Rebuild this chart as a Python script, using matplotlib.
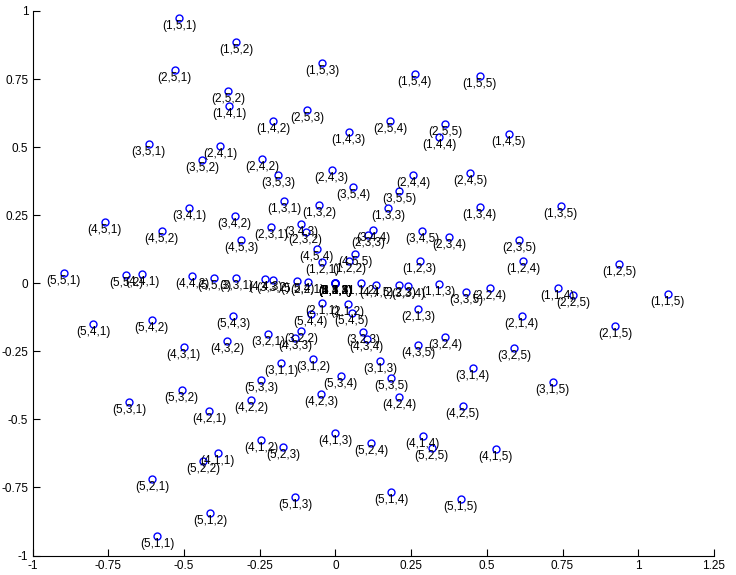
import itertools
import matplotlib
matplotlib.use("Agg")
import matplotlib.pyplot as plt

# coordinates of point (i,j,k); each list runs over (j,k) = (1,1),(1,2),...,(5,5)
x1 = [0.000, 0.086, 0.341, 0.734, 1.097,
      -0.043, 0.045, 0.278, 0.621, 0.938,
      -0.169, -0.053, 0.174, 0.476, 0.744,
      -0.350, -0.205, 0.044, 0.342, 0.573,
      -0.515, -0.327, -0.043, 0.262, 0.477]
y1 = [0.000, 0.000, -0.003, -0.017, -0.039,
      0.078, 0.083, 0.082, 0.082, 0.072,
      0.302, 0.288, 0.277, 0.280, 0.284,
      0.651, 0.596, 0.556, 0.538, 0.547,
      0.974, 0.885, 0.809, 0.769, 0.761]

x2 = [-0.043, 0.041, 0.273, 0.615, 0.924,
      -0.092, 0.000, 0.210, 0.509, 0.785,
      -0.212, -0.098, 0.108, 0.375, 0.606,
      -0.380, -0.241, -0.012, 0.256, 0.446,
      -0.531, -0.353, -0.093, 0.181, 0.362]
y2 = [-0.073, -0.075, -0.094, -0.120, -0.157,
      0.005, 0.000, -0.006, -0.018, -0.044,
      0.208, 0.189, 0.176, 0.170, 0.159,
      0.504, 0.455, 0.416, 0.398, 0.404,
      0.783, 0.706, 0.636, 0.596, 0.585]

x3 = [-0.179, -0.074, 0.148, 0.454, 0.718,
      -0.221, -0.113, 0.092, 0.362, 0.591,
      -0.327, -0.205, 0.000, 0.241, 0.431,
      -0.482, -0.333, -0.113, 0.125, 0.286,
      -0.617, -0.439, -0.188, 0.059, 0.210]
y3 = [-0.293, -0.278, -0.285, -0.311, -0.362,
      -0.186, -0.175, -0.179, -0.197, -0.238,
      0.018, 0.012, 0.000, -0.010, -0.032,
      0.275, 0.247, 0.218, 0.197, 0.192,
      0.510, 0.453, 0.398, 0.354, 0.339]

x4 = [-0.389, -0.245, -0.001, 0.288, 0.529,
      -0.416, -0.278, -0.047, 0.210, 0.420,
      -0.501, -0.357, -0.132, 0.103, 0.273,
      -0.637, -0.472, -0.232, 0.000, 0.134,
      -0.762, -0.573, -0.311, -0.062, 0.065]
y4 = [-0.623, -0.577, -0.550, -0.561, -0.609,
      -0.469, -0.430, -0.407, -0.418, -0.451,
      -0.233, -0.212, -0.200, -0.205, -0.227,
      0.033, 0.027, 0.016, 0.000, -0.006,
      0.224, 0.192, 0.158, 0.126, 0.108]

x5 = [-0.588, -0.414, -0.133, 0.184, 0.414,
      -0.604, -0.437, -0.172, 0.119, 0.318,
      -0.680, -0.508, -0.246, 0.018, 0.185,
      -0.799, -0.607, -0.338, -0.082, 0.054,
      -0.897, -0.690, -0.400, -0.126, 0.000]
y5 = [-0.928, -0.844, -0.785, -0.766, -0.791,
      -0.719, -0.653, -0.601, -0.585, -0.606,
      -0.437, -0.392, -0.355, -0.339, -0.347,
      -0.151, -0.135, -0.121, -0.113, -0.109,
      0.038, 0.029, 0.019, 0.008, 0.000]

xs = x1 + x2 + x3 + x4 + x5
ys = y1 + y2 + y3 + y4 + y5
labels = ["(%d,%d,%d)" % t for t in itertools.product(range(1, 6), repeat=3)]

xticks = [-1, -0.75, -0.5, -0.25, 0, 0.25, 0.5, 0.75, 1, 1.25]
yticks = [-1, -0.75, -0.5, -0.25, 0, 0.25, 0.5, 0.75, 1]

plt.rcParams['font.family'] = ['Liberation Sans', 'DejaVu Sans']

fig = plt.figure(figsize=(7.36, 5.75), dpi=100)
ax = fig.add_axes([0.0442, 0.0339, 0.9258, 0.947])

ax.plot(xs, ys, 'o', mfc='none', mec=(0, 0, 1), ms=5, mew=1.0)
for x, y, s in zip(xs, ys, labels):
    ax.annotate(s, (x, y), xytext=(0, -1.5), textcoords='offset points',
                ha='center', va='top', fontsize=8.5, color='black')

ax.set_xlim(-1, 1.25)
ax.set_ylim(-1, 1)
ax.set_xticks(xticks)
ax.set_yticks(yticks)
ax.set_xticklabels([("%g" % v) for v in xticks])
ax.set_yticklabels([("%g" % v) for v in yticks])
ax.tick_params(direction='in', length=5, labelsize=8.5, pad=3)
ax.spines['top'].set_visible(False)
ax.spines['right'].set_visible(False)

fig.savefig("out.png", dpi=100)
